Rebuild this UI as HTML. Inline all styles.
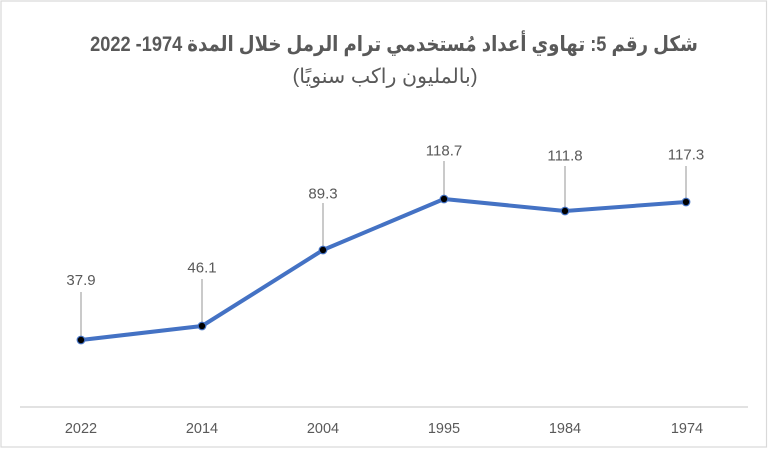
<!DOCTYPE html>
<html>
<head>
<meta charset="utf-8">
<style>
  html,body{margin:0;padding:0;background:#fff;}
  body{width:768px;height:449px;overflow:hidden;position:relative;}
  .t1{position:absolute;left:0;top:32px;width:788px;text-align:center;direction:rtl;
      font-family:"Liberation Sans","DejaVu Sans",sans-serif;font-weight:bold;font-size:21px;color:#595959;line-height:26px;white-space:nowrap;
      transform:scaleX(0.866);transform-origin:394px 50%;}
  .t2{position:absolute;left:0;top:63px;width:770px;text-align:center;direction:rtl;
      font-family:"Liberation Sans","DejaVu Sans",sans-serif;font-size:20.5px;color:#595959;line-height:28px;white-space:nowrap;}
  svg{position:absolute;left:0;top:0;}
</style>
</head>
<body>
<svg width="768" height="449" viewBox="0 0 768 449" xmlns="http://www.w3.org/2000/svg">
  <rect x="1" y="1" width="765.5" height="446" fill="#fff" stroke="#d9d9d9" stroke-width="1.2"/>
  <line x1="20" y1="407" x2="748" y2="407" stroke="#d9d9d9" stroke-width="1.6"/>
  <g font-family="Liberation Sans, sans-serif" font-size="14.5" fill="#595959" text-anchor="middle">
    <text x="81" y="433">2022</text>
    <text x="202" y="433">2014</text>
    <text x="323" y="433">2004</text>
    <text x="444" y="433">1995</text>
    <text x="565" y="433">1984</text>
    <text x="687" y="433">1974</text>
  </g>
  <g stroke="#a6a6a6" stroke-width="1.2">
    <line x1="81" y1="292" x2="81" y2="340"/>
    <line x1="202" y1="279" x2="202" y2="326"/>
    <line x1="323" y1="203" x2="323" y2="250"/>
    <line x1="444" y1="161" x2="444" y2="199"/>
    <line x1="565" y1="166" x2="565" y2="211"/>
    <line x1="686" y1="166" x2="686" y2="202"/>
  </g>
  <polyline points="81,340 202,326 323,250 444,199 565,211 686,202" fill="none" stroke="#4472c4" stroke-width="4" stroke-linejoin="round" stroke-linecap="round"/>
  <g fill="#000" stroke="#4472c4" stroke-width="1.2">
    <circle cx="81" cy="340" r="3.8"/>
    <circle cx="202" cy="326" r="3.8"/>
    <circle cx="323" cy="250" r="3.8"/>
    <circle cx="444" cy="199" r="3.8"/>
    <circle cx="565" cy="211" r="3.8"/>
    <circle cx="686" cy="202" r="3.8"/>
  </g>
  <g font-family="Liberation Sans, sans-serif" font-size="15" fill="#595959" text-anchor="middle">
    <text x="81" y="285">37.9</text>
    <text x="202" y="272.5">46.1</text>
    <text x="323" y="198.5">89.3</text>
    <text x="444" y="155.5">118.7</text>
    <text x="565" y="160.5">111.8</text>
    <text x="686" y="159.5">117.3</text>
  </g>
</svg>
<div class="t1">شكل رقم 5: تهاوي أعداد مُستخدمي ترام الرمل خلال المدة 1974- 2022</div>
<div class="t2">(بالمليون راكب سنويًا)</div>
</body>
</html>
